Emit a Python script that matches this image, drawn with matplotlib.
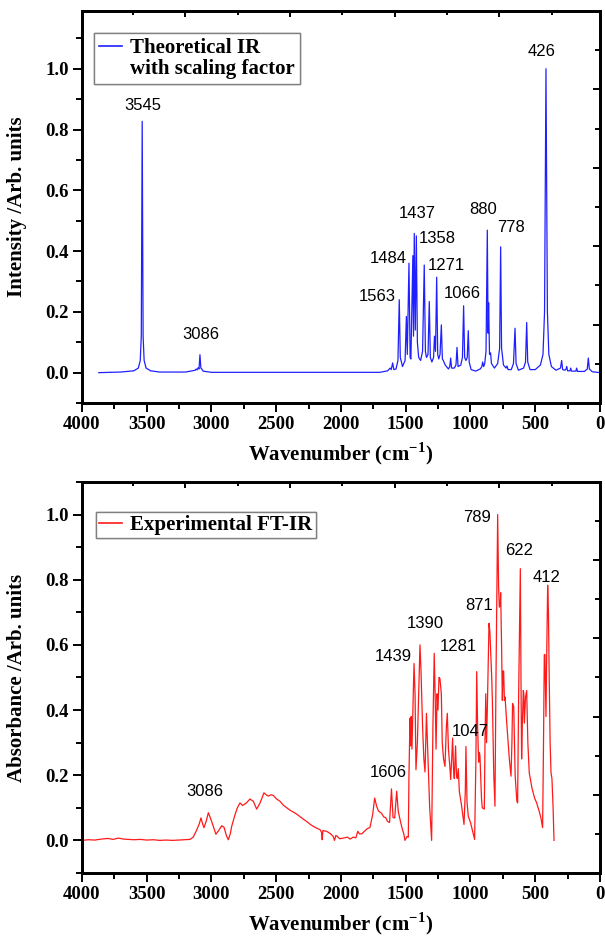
import matplotlib
matplotlib.use('Agg')
import matplotlib.pyplot as plt
from matplotlib.lines import Line2D
import numpy as np

plt.rcParams['font.family'] = 'Liberation Serif'
plt.rcParams['font.weight'] = 'bold'
plt.rcParams['mathtext.fontset'] = 'custom'
plt.rcParams['mathtext.rm'] = 'Liberation Serif:bold'
plt.rcParams['mathtext.bf'] = 'Liberation Serif:bold'

# Theoretical IR (scaled), wavenumber / intensity
theo_wn = [3870, 3700, 3600, 3565, 3550, 3542, 3535, 3528, 3520, 3505, 3470, 3400,
           3200, 3125, 3118, 3110, 3103, 3096, 3089, 3082, 3075, 3065, 3000,
           1700, 1640, 1620, 1612, 1601, 1592, 1575, 1560, 1550, 1542, 1525,
           1505, 1495, 1488, 1475, 1466, 1460, 1445, 1440, 1434, 1426, 1418, 1410, 1400,
           1385, 1370, 1357, 1348, 1340, 1328, 1318, 1310, 1298, 1285, 1278, 1270,
           1261, 1253, 1245, 1235, 1225, 1217, 1210, 1195, 1170, 1160, 1153, 1146,
           1125, 1112, 1104, 1096, 1075, 1062, 1053, 1045, 1035, 1025, 1017, 1010,
           995, 960, 925, 912, 906, 898, 890, 880, 870, 864, 860, 853, 845, 838,
           815, 790, 775, 767, 760, 745, 725, 718, 710, 685, 668, 656, 648, 630,
           590, 575, 566, 558, 540, 500, 460, 440, 428, 417, 406, 395, 375, 340,
           305, 296, 288, 270, 262, 257, 250, 232, 226, 220, 186, 180, 174, 120,
           98, 90, 82, 60, 0]
theo_int = [0.0, 0.002, 0.006, 0.015, 0.04, 0.12, 0.827, 0.12, 0.04, 0.015, 0.006, 0.002,
            0.002, 0.008, 0.012, 0.009, 0.016, 0.012, 0.059, 0.015, 0.012, 0.005, 0.001,
            0.001, 0.006, 0.015, 0.01, 0.032, 0.01, 0.012, 0.04, 0.24, 0.05, 0.02,
            0.04, 0.185, 0.06, 0.36, 0.05, 0.045, 0.385, 0.12, 0.458, 0.14, 0.45, 0.1, 0.05,
            0.04, 0.07, 0.354, 0.07, 0.05, 0.06, 0.234, 0.05, 0.035, 0.05, 0.12, 0.07,
            0.314, 0.06, 0.045, 0.06, 0.157, 0.045, 0.04, 0.025, 0.012, 0.02, 0.048, 0.015,
            0.015, 0.025, 0.083, 0.02, 0.025, 0.05, 0.22, 0.05, 0.04, 0.05, 0.138, 0.035,
            0.01, 0.005, 0.012, 0.02, 0.035, 0.02, 0.03, 0.07, 0.469, 0.13, 0.23, 0.06, 0.065, 0.03,
            0.015, 0.03, 0.08, 0.414, 0.08, 0.025, 0.015, 0.022, 0.01, 0.01, 0.03, 0.146, 0.03, 0.008,
            0.015, 0.035, 0.165, 0.035, 0.01, 0.01, 0.025, 0.06, 0.2, 1.0, 0.2, 0.06, 0.02, 0.008,
            0.015, 0.04, 0.01, 0.008, 0.012, 0.02, 0.006, 0.006, 0.015, 0.005, 0.005, 0.015, 0.004, 0.004,
            0.012, 0.048, 0.012, 0.003, 0.0]

# Experimental FT-IR absorbance
exp_wn = [4000, 3950, 3900, 3850, 3800, 3760, 3720, 3680, 3640, 3600, 3550, 3500,
          3450, 3400, 3350, 3300, 3250, 3200, 3166, 3141, 3115, 3095, 3081, 3068,
          3058, 3040, 3024, 3005, 2991, 2966, 2945, 2921, 2903, 2885, 2870, 2855,
          2844, 2819, 2800, 2780, 2760, 2730, 2703, 2677, 2651, 2625, 2610, 2595,
          2578, 2561, 2540, 2522, 2500, 2471, 2445, 2419, 2395, 2368, 2340, 2317,
          2290, 2265, 2240, 2214, 2190, 2162, 2150, 2145, 2140, 2111, 2080, 2060,
          2050, 2040, 2033, 2010, 1982, 1950, 1930, 1905, 1885, 1870, 1858, 1840,
          1800, 1776, 1755, 1740, 1725, 1710, 1686, 1670, 1655, 1640, 1625, 1610,
          1598, 1585, 1570, 1558, 1544, 1530, 1515, 1506, 1490, 1480, 1475, 1467,
          1462, 1458, 1452, 1445, 1436, 1428, 1421, 1410, 1400, 1390, 1382, 1370,
          1360, 1351, 1340, 1332, 1315, 1300, 1290, 1280, 1272, 1266, 1258, 1251,
          1243, 1236, 1225, 1218, 1208, 1197, 1186, 1179, 1170, 1160, 1153, 1145,
          1138, 1131, 1125, 1115, 1108, 1102, 1094, 1086, 1070, 1050, 1040, 1035,
          1027, 1017, 1000, 985, 968, 958, 952, 945, 937, 931, 927, 915,
          909, 893, 888, 882, 876, 870, 857, 850, 844, 836, 831, 820,
          811, 803, 795, 790, 783, 777, 770, 767, 760, 754, 748, 744,
          738, 733, 720, 700, 687, 680, 675, 666, 655, 642, 636, 628,
          620, 615, 610, 605, 600, 592, 588, 584, 575, 566, 557, 546,
          525, 505, 489, 470, 456, 448, 443, 436, 430, 425, 417, 412,
          404, 398, 392, 385, 378, 371, 362, 355]
exp_abs = [0.0, 0.002, 0.001, 0.004, 0.006, 0.003, 0.007, 0.004, 0.003, 0.002, 0.003, 0.001,
           0.002, 0.0, 0.001, 0.0, 0.001, 0.002, 0.003, 0.01, 0.031, 0.05, 0.069, 0.05,
           0.039, 0.06, 0.085, 0.065, 0.049, 0.019, 0.03, 0.045, 0.04, 0.015, 0.002, 0.02,
           0.043, 0.078, 0.1, 0.115, 0.107, 0.115, 0.127, 0.12, 0.096, 0.115, 0.13, 0.146,
           0.14, 0.136, 0.14, 0.138, 0.128, 0.12, 0.108, 0.1, 0.093, 0.087, 0.08, 0.073,
           0.065, 0.058, 0.05, 0.043, 0.038, 0.033, 0.025, 0.002, 0.03, 0.028, 0.02, 0.012,
           0.0, 0.015, 0.014, 0.005, 0.007, 0.01, 0.004, 0.01, 0.008, 0.028, 0.02, 0.02,
           0.035, 0.04, 0.08, 0.13, 0.105, 0.09, 0.083, 0.072, 0.07, 0.058, 0.055, 0.158,
           0.07, 0.069, 0.151, 0.09, 0.064, 0.04, 0.02, 0.0, 0.012, 0.01, 0.2, 0.375,
           0.29, 0.38, 0.28, 0.4, 0.543, 0.45, 0.217, 0.3, 0.45, 0.6, 0.52, 0.35,
           0.25, 0.21, 0.39, 0.3, 0.1, 0.0, 0.35, 0.574, 0.43, 0.28, 0.45, 0.4,
           0.5, 0.497, 0.45, 0.3, 0.25, 0.227, 0.35, 0.39, 0.28, 0.23, 0.187, 0.25,
           0.314, 0.22, 0.19, 0.29, 0.2, 0.19, 0.22, 0.15, 0.11, 0.049, 0.15, 0.288,
           0.12, 0.074, 0.055, 0.03, 0.003, 0.25, 0.518, 0.35, 0.24, 0.27, 0.26, 0.13,
           0.1, 0.096, 0.3, 0.45, 0.3, 0.4, 0.666, 0.64, 0.58, 0.5, 0.43, 0.2,
           0.105, 0.5, 0.8, 1.0, 0.78, 0.716, 0.72, 0.76, 0.6, 0.43, 0.52, 0.52,
           0.43, 0.44, 0.36, 0.25, 0.197, 0.3, 0.42, 0.41, 0.2, 0.12, 0.115, 0.45,
           0.7, 0.834, 0.5, 0.25, 0.35, 0.46, 0.45, 0.36, 0.44, 0.46, 0.3, 0.207,
           0.16, 0.13, 0.115, 0.09, 0.069, 0.05, 0.039, 0.3, 0.57, 0.57, 0.38, 0.55,
           0.783, 0.7, 0.5, 0.3, 0.207, 0.19, 0.1, 0.0]

# peak labels: text, x, y
theo_labels = ['3545', '3086', '1563', '1484', '1437', '1358', '1271', '1066', '880', '778', '426']
theo_lab_x = [3529, 3081, 1722, 1632, 1408, 1253, 1189, 1066, 903, 687, 448]
theo_lab_y = [0.879, 0.125, 0.249, 0.374, 0.525, 0.443, 0.351, 0.262, 0.538, 0.479, 1.056]

exp_labels = ['3086', '1606', '1439', '1390', '1281', '1047', '871', '789', '622', '412']
exp_lab_x = [3050, 1637, 1596, 1349, 1097, 1004, 934, 950, 625, 412]
exp_lab_y = [0.15, 0.208, 0.563, 0.667, 0.596, 0.333, 0.722, 0.991, 0.89, 0.807]

fig = plt.figure(figsize=(6.05, 9.41), dpi=100)
ax1 = fig.add_axes([0.1355, 0.5717, 0.8562, 0.4166])
ax2 = fig.add_axes([0.1355, 0.0723, 0.8562, 0.4155])

ax1.plot(theo_wn, theo_int, color='#2020ff', lw=0.9)
ax2.plot(exp_wn, exp_abs, color='#ff1a1a', lw=0.9)

xlab = r'Wavenumber (cm$^{\mathbf{-1}}$)'


def style(ax, ylabel, ylim):
    ax.set_xlim(4000, 0)
    ax.set_ylim(*ylim)
    ax.set_xticks(np.arange(0, 4001, 500))
    ax.set_xticks(np.arange(0, 4001, 250), minor=True)
    ax.set_yticks([0.0, 0.2, 0.4, 0.6, 0.8, 1.0])
    ax.set_yticks(np.arange(-0.1, ylim[1], 0.1), minor=True)
    ax.set_yticklabels(['0.0', '0.2', '0.4', '0.6', '0.8', '1.0'])
    ax.tick_params(which='major', direction='out', length=6.5, width=1.4,
                   labelsize=13.5, pad=3)
    ax.tick_params(which='minor', direction='out', length=4, width=1.4)
    for lab in ax.get_xticklabels() + ax.get_yticklabels():
        lab.set_fontweight('bold')
    for sp in ax.spines.values():
        sp.set_linewidth(1.8)
    ax.set_xlabel(xlab, fontsize=15, fontweight='bold', labelpad=5)
    ax.set_ylabel(ylabel, fontsize=15, fontweight='bold')

    # top / right ticks (not tied to the data scale in the original)
    axt = ax.twiny()
    axt.set_xlim(0, 1)
    axt.set_xticks([0.0985 + 0.101 * k for k in range(1, 9, 2)])
    axt.set_xticks([0.0985 + 0.101 * k for k in range(0, 9, 2)], minor=True)
    axt.tick_params(which='major', direction='in', length=4.5, width=1.4, labeltop=False)
    axt.tick_params(which='minor', direction='in', length=3, width=1.4)
    axr = ax.twinx()
    axr.set_ylim(0, 1)
    axr.set_yticks([0.2, 0.4, 0.6, 0.8])
    axr.set_yticks([0.1, 0.3, 0.5, 0.7, 0.9], minor=True)
    axr.tick_params(which='major', direction='in', length=5, width=1.4, labelright=False)
    axr.tick_params(which='minor', direction='in', length=3.5, width=1.4)
    for a in (axt, axr):
        for sp in a.spines.values():
            sp.set_linewidth(1.8)


style(ax1, 'Intensity /Arb. units', (-0.1, 1.19))
style(ax2, 'Absorbance /Arb. units', (-0.1, 1.1))
ax1.yaxis.set_label_coords(-0.106, 0.5)
ax2.yaxis.set_label_coords(-0.106, 0.5)

for t, x, y in zip(theo_labels, theo_lab_x, theo_lab_y):
    ax1.text(x, y, t, fontsize=12, family='Liberation Sans', fontweight='normal',
             ha='center', va='center')
for t, x, y in zip(exp_labels, exp_lab_x, exp_lab_y):
    ax2.text(x, y, t, fontsize=12, family='Liberation Sans', fontweight='normal',
             ha='center', va='center')

legprop = {'family': 'Liberation Serif', 'weight': 'bold', 'size': 15}

h1 = [Line2D([], [], color='#2020ff', lw=1.2), Line2D([], [], color='none')]
leg1 = ax1.legend(h1, ['Theoretical IR', 'with scaling factor'], loc='upper left',
                  bbox_to_anchor=(0.023, 0.944), fancybox=False, framealpha=1,
                  edgecolor='#808080', prop=legprop,
                  handlelength=1.1, handletextpad=0.4, labelspacing=0.05, borderpad=0.25,
                  borderaxespad=0)
leg1.get_frame().set_linewidth(1.0)
ax1.add_artist(leg1)

h2 = [Line2D([], [], color='#ff1a1a', lw=1.2)]
leg2 = ax2.legend(h2, ['Experimental FT-IR'], loc='upper left',
                  bbox_to_anchor=(0.027, 0.923), fancybox=False, framealpha=1,
                  edgecolor='#808080', prop=legprop,
                  handlelength=1.1, handletextpad=0.4, borderpad=0.15, borderaxespad=0)
leg2.get_frame().set_linewidth(1.0)
ax2.add_artist(leg2)

plt.savefig('out.png', dpi=100)
